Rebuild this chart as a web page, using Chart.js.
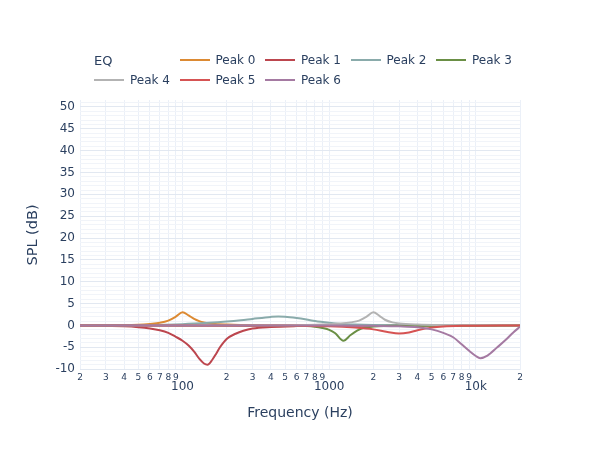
<!DOCTYPE html>
<html>
<head>
<meta charset="utf-8">
<script src="https://cdn.jsdelivr.net/npm/chart.js@4.4.0/dist/chart.umd.min.js"></script>
<style>
    body { margin: 0; background: #fff; }
    #wrap { position: relative; width: 600px; height: 450px; font-family: "DejaVu Sans", sans-serif; color: #2a3f5f; }
    #legend { position: absolute; left: 94px; top: 50px; display: grid; grid-template-columns: repeat(5, 85.5px); grid-auto-rows: 20px; font-size: 12px; }
    #legend .title { font-size: 13px; display: flex; align-items: center; }
    #legend .item { display: flex; align-items: center; white-space: nowrap; }
    #legend .swatch { width: 30px; height: 2px; margin-right: 6px; }
</style>
</head>
<body>
<div id="wrap">
    <canvas id="eqChart" width="600" height="450"></canvas>
    <div id="legend"><div class="title">EQ</div></div>
</div>
<script>
const seriesNames = ['Peak 0', 'Peak 1', 'Peak 2', 'Peak 3', 'Peak 4', 'Peak 5', 'Peak 6'];
const seriesColors = ['#dc8a33', '#bc464e', '#8aabab', '#6a8f45', '#b3b3b3', '#d65353', '#a57aa2'];

const peak0Freq = [20, 40, 50, 60, 70, 80, 90, 100, 110, 120, 130, 140, 160, 200, 300, 20000];
const peak0Gain = [0, 0.05, 0.15, 0.35, 0.6, 1.1, 2.0, 3.0, 2.3, 1.5, 1.0, 0.7, 0.4, 0.2, 0.05, 0];

const peak1Freq = [20, 40, 50, 60, 70, 80, 90, 100, 110, 120, 130, 140, 148, 160, 170, 180, 200, 230, 260, 300, 400, 600, 1000, 20000];
const peak1Gain = [-0.05, -0.2, -0.4, -0.7, -1.1, -1.7, -2.6, -3.5, -4.6, -6.0, -7.6, -8.7, -9.0, -7.8, -6.4, -5.0, -3.1, -1.9, -1.2, -0.7, -0.35, -0.15, -0.05, 0];

const peak2Freq = [20, 50, 100, 150, 200, 250, 300, 400, 450, 500, 600, 700, 800, 1000, 1200, 1500, 2000, 4000, 20000];
const peak2Gain = [0.02, 0.1, 0.3, 0.6, 0.9, 1.2, 1.5, 1.95, 2.05, 2.0, 1.7, 1.35, 1.0, 0.6, 0.35, 0.2, 0.1, 0.03, 0];

const peak3Freq = [20, 500, 700, 800, 900, 1000, 1100, 1250, 1400, 1550, 1700, 2000, 3000, 20000];
const peak3Gain = [0, -0.05, -0.15, -0.3, -0.6, -1.0, -1.8, -3.5, -2.2, -1.2, -0.6, -0.25, -0.05, 0];

const peak4Freq = [20, 500, 1000, 1200, 1400, 1600, 1800, 2000, 2200, 2400, 2700, 3000, 4000, 6000, 20000];
const peak4Gain = [0, 0.05, 0.3, 0.45, 0.7, 1.1, 2.0, 3.0, 2.2, 1.3, 0.7, 0.45, 0.2, 0.08, 0];

const peak5Freq = [20, 500, 1000, 1500, 2000, 2500, 3000, 3500, 4000, 5000, 6000, 8000, 20000];
const peak5Gain = [0, -0.05, -0.2, -0.5, -0.9, -1.5, -1.85, -1.6, -1.1, -0.5, -0.25, -0.1, 0];

const peak6Freq = [20, 1000, 2000, 3000, 4000, 5000, 6000, 7000, 8000, 9000, 10000, 10700, 12000, 14000, 16000, 18000, 20000];
const peak6Gain = [0, 0, -0.1, -0.2, -0.4, -0.9, -1.7, -2.7, -4.3, -5.8, -7.0, -7.5, -6.9, -5.0, -3.3, -1.6, -0.3];

const xTicks = [20, 30, 40, 50, 60, 70, 80, 90, 100, 200, 300, 400, 500, 600, 700, 800, 900,
    1000, 2000, 3000, 4000, 5000, 6000, 7000, 8000, 9000, 10000, 20000];
const xDecadeLabels = { 100: '100', 1000: '1000', 10000: '10k' };
const yTickLabels = [-10, -5, 0, 5, 10, 15, 20, 25, 30, 35, 40, 45, 50];

const textColor = '#2a3f5f';
const fontFamily = '"DejaVu Sans", sans-serif';

const freqs = [peak0Freq, peak1Freq, peak2Freq, peak3Freq, peak4Freq, peak5Freq, peak6Freq];
const gains = [peak0Gain, peak1Gain, peak2Gain, peak3Gain, peak4Gain, peak5Gain, peak6Gain];

const datasets = seriesNames.map((name, i) => ({
    label: name,
    data: freqs[i].map((f, j) => ({ x: f, y: gains[i][j] })),
    borderColor: seriesColors[i],
    backgroundColor: seriesColors[i],
    borderWidth: 2,
    pointRadius: 0,
    cubicInterpolationMode: 'monotone',
    order: seriesNames.length - i,
}));

// html legend, title sits in the first cell
const legendEl = document.getElementById('legend');
seriesNames.forEach((name, i) => {
    const item = document.createElement('div');
    item.className = 'item';
    item.innerHTML = '<span class="swatch" style="background:' + seriesColors[i] + '"></span>' + name;
    legendEl.appendChild(item);
});

new Chart(document.getElementById('eqChart'), {
    type: 'line',
    data: { datasets: datasets },
    options: {
        responsive: false,
        animation: false,
        layout: { padding: { top: 100, right: 80, left: 0, bottom: 0 } },
        plugins: {
            legend: { display: false },
            tooltip: { enabled: false },
        },
        scales: {
            x: {
                type: 'logarithmic',
                min: 20,
                max: 20000,
                afterBuildTicks: function (scale) {
                    scale.ticks = xTicks.map(v => ({ value: v }));
                },
                afterFit: function (scale) {
                    scale.height = 80;
                },
                border: { display: false },
                grid: { color: '#ebf0f8', drawTicks: false },
                ticks: {
                    autoSkip: false,
                    minRotation: 0,
                    maxRotation: 0,
                    padding: 2,
                    color: textColor,
                    callback: function (value) {
                        if (xDecadeLabels[value]) {
                            return ['', xDecadeLabels[value]];
                        }
                        return String(value)[0];
                    },
                    font: function (ctx) {
                        if (ctx.tick && xDecadeLabels[ctx.tick.value]) {
                            return { family: fontFamily, size: 12, lineHeight: 0.82 };
                        }
                        return { family: fontFamily, size: 9, lineHeight: 1.2 };
                    },
                },
                title: {
                    display: true,
                    text: 'Frequency (Hz)',
                    color: textColor,
                    font: { family: fontFamily, size: 14 },
                    padding: { top: 0, bottom: 28.3 },
                },
            },
            y: {
                min: -10.2,
                max: 51.6,
                afterBuildTicks: function (scale) {
                    const t = [];
                    for (let v = -10; v <= 51; v++) t.push({ value: v });
                    scale.ticks = t;
                },
                afterFit: function (scale) {
                    scale.width = 80;
                },
                border: { display: false },
                grid: {
                    drawTicks: false,
                    color: function (ctx) {
                        if (ctx.tick && ctx.tick.value % 5 === 0) return '#e2e8f1';
                        return '#f1f4f9';
                    },
                },
                ticks: {
                    autoSkip: false,
                    padding: 5,
                    color: textColor,
                    font: { family: fontFamily, size: 12 },
                    callback: function (value) {
                        return yTickLabels.includes(value) ? String(value) : '';
                    },
                },
                title: {
                    display: true,
                    text: 'SPL (dB)',
                    color: textColor,
                    font: { family: fontFamily, size: 14.5 },
                    padding: { top: 24.3, bottom: 0 },
                },
            },
        },
    },
});
</script>
</body>
</html>
